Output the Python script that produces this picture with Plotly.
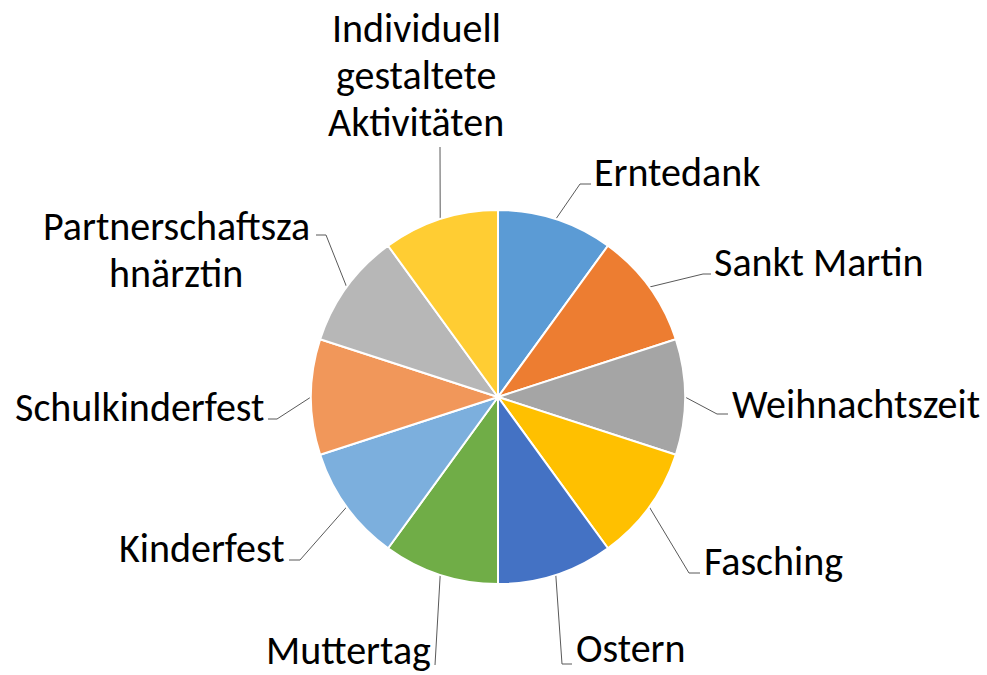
import math
import plotly.graph_objects as go

# ---- data ----
labels = ["Erntedank", "Sankt Martin", "Weihnachtszeit", "Fasching", "Ostern",
          "Muttertag", "Kinderfest", "Schulkinderfest",
          "Partnerschaftszahnärztin", "Individuell gestaltete Aktivitäten"]
label_lines = [["Erntedank"], ["Sankt Martin"], ["Weihnachtszeit"], ["Fasching"], ["Ostern"],
               ["Muttertag"], ["Kinderfest"], ["Schulkinderfest"],
               ["Partnerschaftsza", "hnärztin"], ["Individuell", "gestaltete", "Aktivitäten"]]
values = [1, 1, 1, 1, 1, 1, 1, 1, 1, 1]
colors = ["#5B9BD5", "#ED7D31", "#A5A5A5", "#FFC000", "#4472C4",
          "#70AD47", "#7CAFDD", "#F1975A", "#B7B7B7", "#FFCD33"]

# ---- layout (pixels) ----
W, H = 987, 675
CX, CY, R = 498, 397, 187
FONT = "Carlito, Calibri, Lato, sans-serif"
FS = 40
PITCH = 47

# per label: elbow point (x, y), horizontal end x, text anchor x, first-line center y, xanchor
label_layout = [
    (580, 184, 591, 592, 172, "left"),
    (703, 274, 711, 712, 262, "left"),
    (717, 414, 728, 730, 404, "left"),
    (689, 573, 700, 702, 561, "left"),
    (562, 664, 572, 574, 648, "left"),
    (435, 665, 435, 433, 650, "right"),
    (300, 560, 289, 287, 548, "right"),
    (277, 419, 268, 266, 407, "right"),
    (326, 235, 316, 176, 226, "center"),
    (440, 147, 440, 416, 28, "center"),
]

fig = go.Figure()
fig.add_trace(go.Pie(
    labels=labels, values=values, sort=False, direction="clockwise", rotation=0,
    marker=dict(colors=colors, line=dict(color="white", width=2)),
    textinfo="none", showlegend=False,
    domain=dict(x=[(CX - R) / W, (CX + R) / W], y=[(H - CY - R) / H, (H - CY + R) / H]),
))

total = sum(values)
cum = 0
for i, v in enumerate(values):
    mid = (cum + v / 2) / total * 2 * math.pi
    cum += v
    sx = CX + R * math.sin(mid)
    sy = CY - R * math.cos(mid)
    ex, ey, hx, tx, ty, xa = label_layout[i]
    fig.add_trace(go.Scatter(
        x=[sx, ex, hx], y=[sy, ey, ey], mode="lines",
        line=dict(color="#595959", width=1), hoverinfo="skip", showlegend=False,
    ))
    for j, line in enumerate(label_lines[i]):
        fig.add_annotation(
            x=tx, y=ty + j * PITCH, xref="x", yref="y", text=line, showarrow=False,
            xanchor=xa, yanchor="middle", align="center",
            font=dict(family=FONT, size=FS, color="#000000"),
        )

fig.update_layout(
    width=W, height=H, margin=dict(l=0, r=0, t=0, b=0),
    paper_bgcolor="white", plot_bgcolor="rgba(0,0,0,0)",
    xaxis=dict(range=[0, W], visible=False, fixedrange=True),
    yaxis=dict(range=[H, 0], visible=False, fixedrange=True),
)

fig.write_html("out.html")
